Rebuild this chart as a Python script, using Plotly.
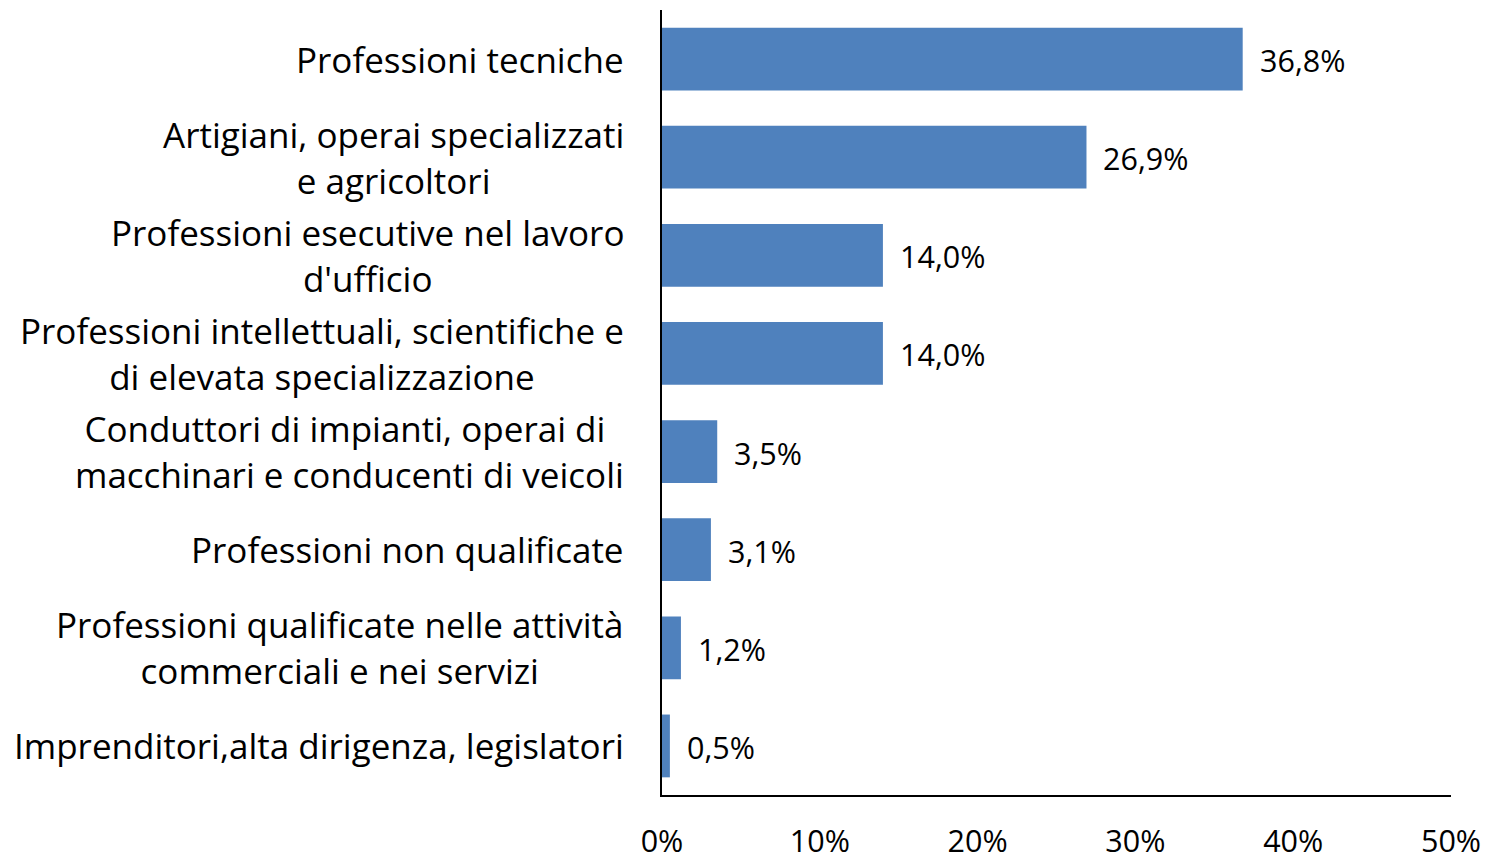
import plotly.graph_objects as go

categories = [
    "Professioni tecniche",
    "Artigiani, operai specializzati<br>e agricoltori",
    "Professioni esecutive nel lavoro<br>d'ufficio",
    "Professioni intellettuali, scientifiche e<br>di elevata specializzazione",
    "Conduttori di impianti, operai di <br>macchinari e conducenti di veicoli",
    "Professioni non qualificate",
    "Professioni qualificate nelle attività<br>commerciali e nei servizi",
    "Imprenditori,alta dirigenza, legislatori",
]
values = [36.8, 26.9, 14.0, 14.0, 3.5, 3.1, 1.2, 0.5]
value_labels = ["36,8%", "26,9%", "14,0%", "14,0%", "3,5%", "3,1%", "1,2%", "0,5%"]
tick_vals = [0, 10, 20, 30, 40, 50]
tick_text = ["0%", "10%", "20%", "30%", "40%", "50%"]

FONT = "Open Sans"
FS = 35

fig = go.Figure()
fig.add_trace(go.Bar(
    x=values, y=categories, orientation="h",
    marker=dict(color="#4F81BD", line=dict(width=0)),
    width=0.64, hoverinfo="skip",
))

annotations = []
for cat in categories:
    annotations.append(dict(
        x=0, xref="paper", y=cat, yref="y", text=cat,
        xanchor="right", yanchor="middle", align="center", xshift=-36,
        showarrow=False, font=dict(family=FONT, size=FS, color="#000000"),
    ))
for cat, v, lab in zip(categories, values, value_labels):
    annotations.append(dict(
        x=v, xref="x", y=cat, yref="y", text=lab,
        xanchor="left", yanchor="middle", xshift=15, yshift=-1,
        showarrow=False, font=dict(family=FONT, size=30.5, color="#000000"),
    ))

fig.update_layout(
    width=1483, height=847,
    margin=dict(l=654, r=40, t=2, b=60, autoexpand=False),
    plot_bgcolor="white", paper_bgcolor="white",
    showlegend=False,
    annotations=annotations,
    font=dict(family=FONT, size=FS, color="#000000"),
    xaxis=dict(
        range=[0, 50], tickvals=tick_vals, ticktext=tick_text,
        showgrid=False, zeroline=False, automargin=False,
        showline=True, linecolor="#000000", linewidth=1.5,
        ticks="", ticklabelstandoff=19,
        tickfont=dict(family=FONT, size=30.5, color="#000000"),
    ),
    yaxis=dict(
        categoryorder="array", categoryarray=categories,
        autorange="reversed", automargin=False,
        showticklabels=False, showgrid=False, zeroline=False,
        showline=True, linecolor="#000000", linewidth=1.5, ticks="",
    ),
)

fig.write_html("out.html")
